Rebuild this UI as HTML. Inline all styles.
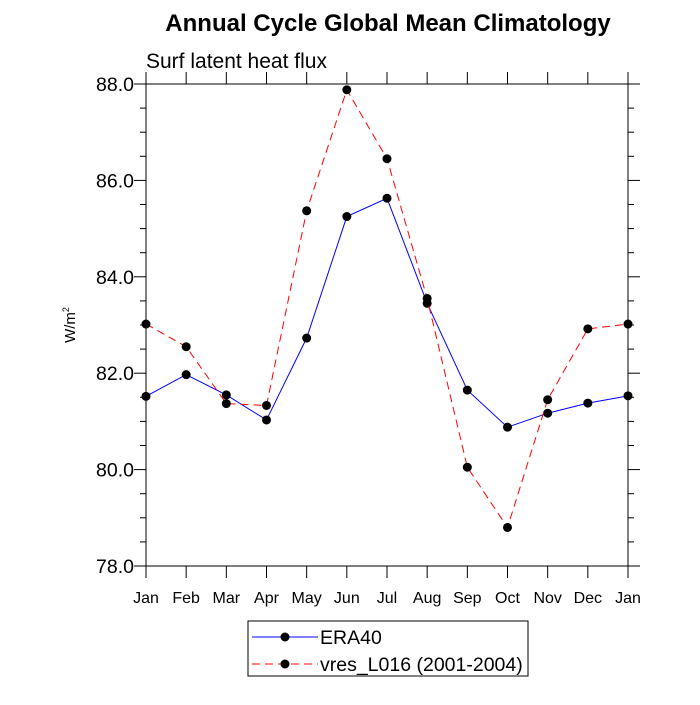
<!DOCTYPE html>
<html><head><meta charset="utf-8"><style>
body{margin:0;background:#fff;}
svg text{font-family:"Liberation Sans",sans-serif;}
</style></head><body>
<svg id="chart" width="700" height="700" xmlns="http://www.w3.org/2000/svg">
<text x="388" y="31" font-size="24" font-weight="bold" text-anchor="middle">Annual Cycle Global Mean Climatology</text>
<text x="146" y="68" font-size="21">Surf latent heat flux</text>
<text transform="translate(75,325) rotate(-90)" font-size="15" text-anchor="middle">W/m<tspan font-size="9" dy="-6">2</tspan></text>
<g id="axes"></g>
<g id="series"></g>
<g>
<rect x="248" y="621" width="280" height="55" fill="#fff" stroke="#000" stroke-width="1"/>
<g>
<line x1="252" y1="637" x2="318" y2="637" stroke="#0000ff" stroke-width="1"/>
<circle cx="285" cy="637" r="4.5" fill="#000"/>
<text x="320" y="644" font-size="19.5">ERA40</text></g>
<g>
<line x1="252" y1="664" x2="318" y2="664" stroke="#ff0000" stroke-width="1" stroke-dasharray="8,5"/>
<circle cx="285" cy="664" r="4.5" fill="#000"/>
<text x="320" y="671" font-size="19.5">vres_L016 (2001-2004)</text></g>
</g>
</svg>
<script>
const months=["Jan","Feb","Mar","Apr","May","Jun","Jul","Aug","Sep","Oct","Nov","Dec","Jan"];
const era40=[81.52,81.97,81.55,81.03,82.73,85.25,85.63,83.45,81.65,80.88,81.17,81.38,81.53];
const vres=[83.02,82.55,81.37,81.33,85.37,87.88,86.45,83.55,80.05,78.8,81.45,82.92,83.02];
const yTicks=[78,80,82,84,86,88];
const NS="http://www.w3.org/2000/svg";
const L=146,R=628,T=84,B=566,yMin=78,yMax=88;
const xs=i=>L+i*(R-L)/(months.length-1);
const ys=v=>B-(v-yMin)/(yMax-yMin)*(B-T);
function mk(tag,attrs,parent){const e=document.createElementNS(NS,tag);for(const k in attrs)e.setAttribute(k,attrs[k]);parent.appendChild(e);return e;}
const ax=document.getElementById('axes');
const frame=mk('rect',{x:L,y:T,width:R-L,height:B-T,fill:'none',stroke:'#000','stroke-width':1},ax);


for(let v=yMin;v<=yMax+1e-9;v+=0.5){
  const maj=Math.abs(v-Math.round(v/2)*2)<1e-9;const len=maj?12:6;const y=ys(v);
  mk('line',{x1:L-len,y1:y,x2:L,y2:y,stroke:'#000'},ax);
  mk('line',{x1:R,y1:y,x2:R+len,y2:y,stroke:'#000'},ax);
}
yTicks.forEach(v=>{const t=mk('text',{x:L-12,y:ys(v)+7,'font-size':19.5,'text-anchor':'end'},ax);t.textContent=v.toFixed(1);

});
months.forEach((m,i)=>{const x=xs(i);
  mk('line',{x1:x,y1:B,x2:x,y2:B+12,stroke:'#000'},ax);
  mk('line',{x1:x,y1:T-12,x2:x,y2:T,stroke:'#000'},ax);
  const t=mk('text',{x:x,y:B+37,'font-size':16,'text-anchor':'middle'},ax);t.textContent=m;
  
  });
const sg=document.getElementById('series');
function series(vals,color,dash,name){
  const g=mk('g',{},sg);
  
  
  const a={points:vals.map((v,i)=>xs(i)+','+ys(v)).join(' '),fill:'none',stroke:color,'stroke-width':1};
  if(dash)a['stroke-dasharray']=dash;
  mk('polyline',a,g);
  vals.forEach((v,i)=>{const c=mk('circle',{cx:xs(i),cy:ys(v),r:4.5,fill:'#000'},g);
    
    });
}
series(era40,'#0000ff',null,'era40-series');
series(vres,'#ff0000','8,5','vres-series');
</script>
</body></html>
